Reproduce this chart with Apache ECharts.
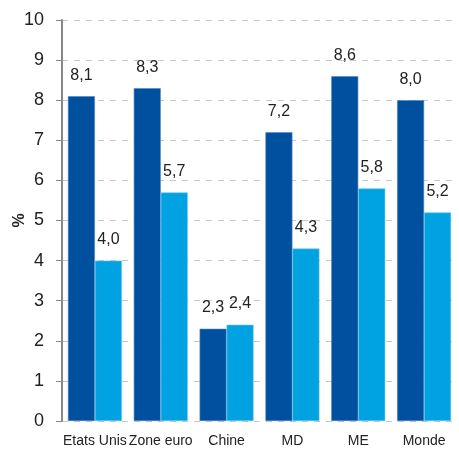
<!DOCTYPE html>
<html>
<head>
    <meta charset="UTF-8">
    <title></title>
    <style>
        html, body { margin: 0; padding: 0; background: #fff; }
        #container { width: 459px; height: 452px; }
    </style>
</head>
<body>
    <div id="container"></div>
    <script src="https://cdn.jsdelivr.net/npm/echarts@6/dist/echarts.min.js"></script>
    <script>
        var categories = ['Etats Unis', 'Zone euro', 'Chine', 'MD', 'ME', 'Monde'];
        var serie1 = [8.1, 8.3, 2.3, 7.2, 8.6, 8.0];
        var serie2 = [4.0, 5.7, 2.4, 4.3, 5.8, 5.2];

        var font = '"Liberation Sans Narrow", "Liberation Sans", Arial, sans-serif';
        function fmt(p) {
            return p.value.toFixed(1).replace('.', ',');
        }
        var labelStyle = {
            show: true,
            position: 'top',
            distance: 13,
            color: '#222',
            fontFamily: font,
            fontSize: 16,
            formatter: fmt
        };

        var myChart = echarts.init(document.getElementById('container'));
        myChart.setOption({
            animation: false,
            grid: { left: 62, right: 2, top: 20, bottom: 31, containLabel: false, outerBoundsMode: 'none' },
            xAxis: {
                type: 'category',
                data: categories,
                axisLine: { show: false },
                axisTick: { show: false },
                axisLabel: {
                    color: '#222', fontFamily: font, fontSize: 14, margin: 13, interval: 0,
                    hideOverlap: false
                }
            },
            yAxis: {
                type: 'value',
                min: 0, max: 10, interval: 1,
                name: '%',
                nameLocation: 'middle',
                nameGap: 34,
                nameRotate: 90,
                nameMoveOverlap: false,
                nameTextStyle: { color: '#222', fontFamily: font, fontSize: 16, fontWeight: 'bold' },
                axisLine: { show: true, lineStyle: { color: '#888', width: 2 } },
                axisTick: { show: true, length: 6, lineStyle: { color: '#888' } },
                axisLabel: { color: '#222', fontFamily: font, fontSize: 18, margin: 18 },
                splitLine: { show: true, lineStyle: { color: '#c8c8c8', type: [6, 6] } }
            },
            series: [
                {
                    type: 'bar',
                    data: serie1,
                    barGap: '0%',
                    barCategoryGap: '18%',
                    itemStyle: { color: '#0050A0', borderColor: '#4f85c2', borderWidth: 0.6 },
                    label: labelStyle
                },
                {
                    type: 'bar',
                    data: serie2,
                    itemStyle: { color: '#00A2E2', borderColor: '#66c6ee', borderWidth: 0.6 },
                    label: labelStyle
                }
            ]
        });
    </script>
</body>
</html>
